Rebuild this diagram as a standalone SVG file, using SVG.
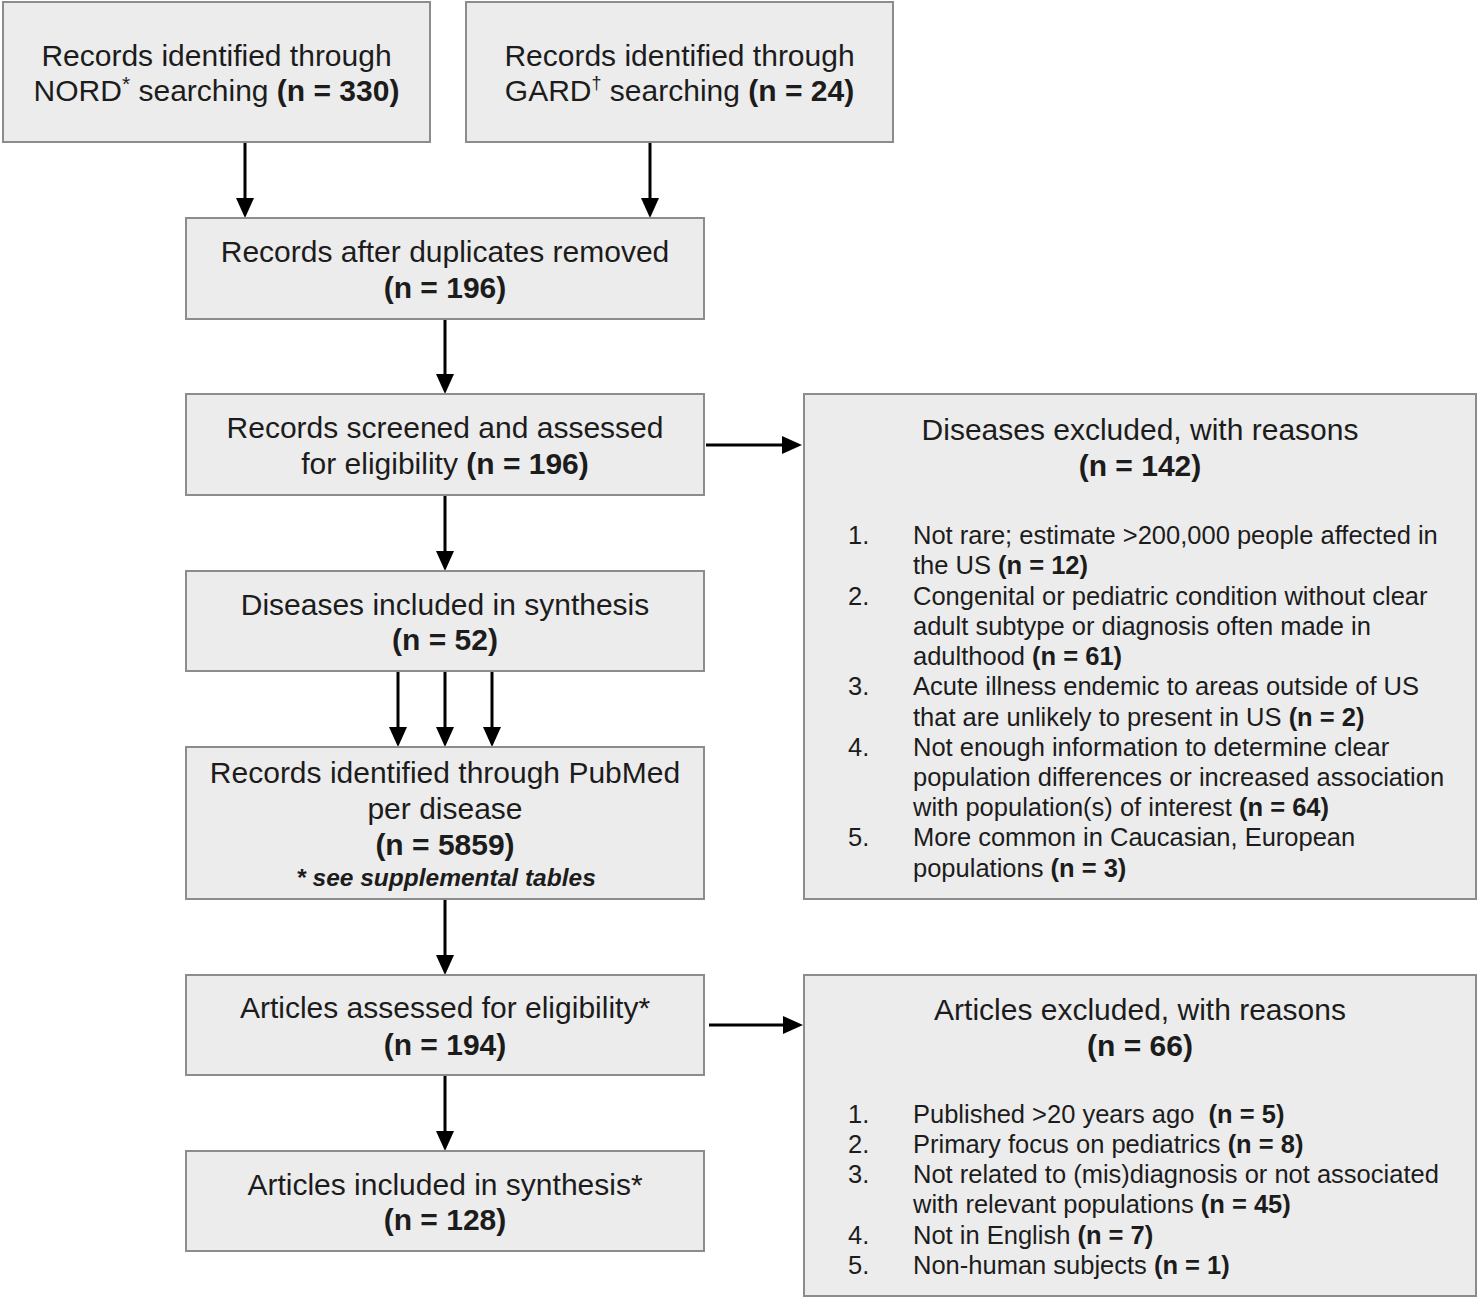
<svg xmlns="http://www.w3.org/2000/svg" width="1478" height="1298" viewBox="0 0 1478 1298">
<defs>
<style>
.box{fill:#ececec;stroke:#8c8c8c;stroke-width:2}
.t{font-family:"Liberation Sans",Arial,Helvetica,sans-serif;font-size:30px;fill:#1c1c1c;text-anchor:middle}
.l{font-family:"Liberation Sans",Arial,Helvetica,sans-serif;font-size:25.5px;fill:#1c1c1c}
.b{font-weight:bold}
.note{font-family:"Liberation Sans",Arial,Helvetica,sans-serif;font-size:24.5px;font-weight:bold;font-style:italic;fill:#1c1c1c;text-anchor:middle}
.c{stroke:#000;stroke-width:3;fill:none;marker-end:url(#ah)}
</style>
<marker id="ah" markerUnits="userSpaceOnUse" markerWidth="20" markerHeight="18" refX="8" refY="9" orient="auto">
<path d="M0,0 L20,9 L0,18 z" fill="#000"/>
</marker>
</defs>
<rect width="1478" height="1298" fill="#fff"/>

<g id="connectors">
<path class="c" d="M245,142 V206"/>
<path class="c" d="M650,142 V206"/>
<path class="c" d="M445,319 V382"/>
<path class="c" d="M445,495 V559"/>
<path class="c" d="M706,445 H790"/>
<path class="c" d="M398,671 V735"/>
<path class="c" d="M445,671 V735"/>
<path class="c" d="M492,671 V735"/>
<path class="c" d="M445,899 V963"/>
<path class="c" d="M709,1025 H791"/>
<path class="c" d="M445,1075 V1139"/>
</g>

<g id="nord">
<rect class="box" x="3" y="2" width="427" height="140"/>
<text class="t" x="216.5" y="66">Records identified through</text>
<text class="t" x="216.5" y="101">NORD<tspan font-size="21" dy="-10">*</tspan><tspan dy="10"> searching </tspan><tspan class="b">(n = 330)</tspan></text>
</g>

<g id="gard">
<rect class="box" x="466" y="2" width="427" height="140"/>
<text class="t" x="679.5" y="66">Records identified through</text>
<text class="t" x="679.5" y="101">GARD<tspan font-size="18" dy="-12">†</tspan><tspan dy="12"> searching </tspan><tspan class="b">(n = 24)</tspan></text>
</g>

<g id="dedup">
<rect class="box" x="186" y="218" width="518" height="101"/>
<text class="t" x="445" y="262">Records after duplicates removed</text>
<text class="t b" x="445" y="298">(n = 196)</text>
</g>

<g id="screened">
<rect class="box" x="186" y="394" width="518" height="101"/>
<text class="t" x="445" y="438">Records screened and assessed</text>
<text class="t" x="445" y="474">for eligibility <tspan class="b">(n = 196)</tspan></text>
</g>

<g id="diseases-included">
<rect class="box" x="186" y="571" width="518" height="100"/>
<text class="t" x="445" y="615">Diseases included in synthesis</text>
<text class="t b" x="445" y="650">(n = 52)</text>
</g>

<g id="pubmed">
<rect class="box" x="186" y="747" width="518" height="152"/>
<text class="t" x="445" y="783">Records identified through PubMed</text>
<text class="t" x="445" y="819">per disease</text>
<text class="t b" x="445" y="855">(n = 5859)</text>
<text class="note" x="446" y="886">* see supplemental tables</text>
</g>

<g id="articles-assessed">
<rect class="box" x="186" y="975" width="518" height="100"/>
<text class="t" x="445" y="1018">Articles assessed for eligibility*</text>
<text class="t b" x="445" y="1055">(n = 194)</text>
</g>

<g id="articles-included">
<rect class="box" x="186" y="1151" width="518" height="100"/>
<text class="t" x="445" y="1195">Articles included in synthesis*</text>
<text class="t b" x="445" y="1230">(n = 128)</text>
</g>

<g id="diseases-excluded">
<rect class="box" x="804" y="394" width="672" height="505"/>
<text class="t" x="1140" y="440">Diseases excluded, with reasons</text>
<text class="t b" x="1140" y="476">(n = 142)</text>
<text class="l" x="848" y="544">1.</text>
<text class="l" x="913" y="544">Not rare; estimate &gt;200,000 people affected in</text>
<text class="l" x="913" y="574">the US <tspan class="b">(n = 12)</tspan></text>
<text class="l" x="848" y="605">2.</text>
<text class="l" x="913" y="605">Congenital or pediatric condition without clear</text>
<text class="l" x="913" y="635">adult subtype or diagnosis often made in</text>
<text class="l" x="913" y="665">adulthood <tspan class="b">(n = 61)</tspan></text>
<text class="l" x="848" y="695">3.</text>
<text class="l" x="913" y="695">Acute illness endemic to areas outside of US</text>
<text class="l" x="913" y="726">that are unlikely to present in US <tspan class="b">(n = 2)</tspan></text>
<text class="l" x="848" y="756">4.</text>
<text class="l" x="913" y="756">Not enough information to determine clear</text>
<text class="l" x="913" y="786">population differences or increased association</text>
<text class="l" x="913" y="816">with population(s) of interest <tspan class="b">(n = 64)</tspan></text>
<text class="l" x="848" y="846">5.</text>
<text class="l" x="913" y="846">More common in Caucasian, European</text>
<text class="l" x="913" y="877">populations <tspan class="b">(n = 3)</tspan></text>
</g>

<g id="articles-excluded">
<rect class="box" x="804" y="975" width="672" height="321"/>
<text class="t" x="1140" y="1020">Articles excluded, with reasons</text>
<text class="t b" x="1140" y="1056">(n = 66)</text>
<text class="l" x="848" y="1123">1.</text>
<text class="l" x="913" y="1123">Published &gt;20 years ago&#160; <tspan class="b">(n = 5)</tspan></text>
<text class="l" x="848" y="1153">2.</text>
<text class="l" x="913" y="1153">Primary focus on pediatrics <tspan class="b">(n = 8)</tspan></text>
<text class="l" x="848" y="1183">3.</text>
<text class="l" x="913" y="1183">Not related to (mis)diagnosis or not associated</text>
<text class="l" x="913" y="1213">with relevant populations <tspan class="b">(n = 45)</tspan></text>
<text class="l" x="848" y="1244">4.</text>
<text class="l" x="913" y="1244">Not in English <tspan class="b">(n = 7)</tspan></text>
<text class="l" x="848" y="1274">5.</text>
<text class="l" x="913" y="1274">Non-human subjects <tspan class="b">(n = 1)</tspan></text>
</g>
</svg>
